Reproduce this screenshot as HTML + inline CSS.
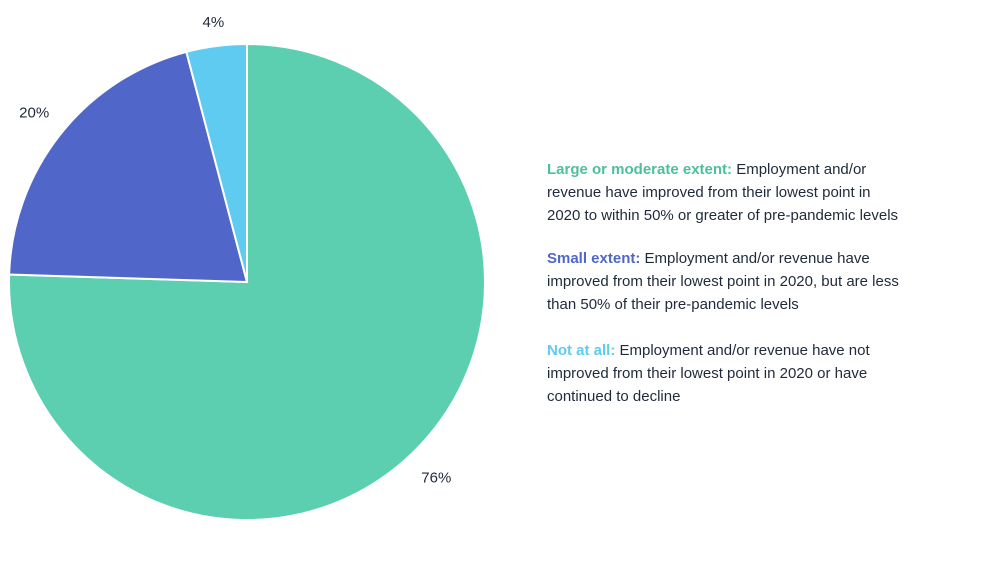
<!DOCTYPE html>
<html><head><meta charset="utf-8">
<style>
body{margin:0;width:985px;height:565px;background:#fff;font-family:"Liberation Sans",sans-serif;overflow:hidden;position:relative}
svg{position:absolute;left:0;top:0}
.leg{position:absolute;left:547px;font-size:15px;line-height:23px;color:#1f2a3a;white-space:nowrap}
.leg b{font-weight:bold}
</style></head><body>
<svg id="pie" width="985" height="565"></svg>
<div class="leg" style="top:158px"><b style="color:#4dbf9e">Large or moderate extent:</b> Employment and/or<br>revenue have improved from their lowest point in<br>2020 to within 50% or greater of pre-pandemic levels</div>
<div class="leg" style="top:247px"><b style="color:#5067c9">Small extent:</b> Employment and/or revenue have<br>improved from their lowest point in 2020, but are less<br>than 50% of their pre-pandemic levels</div>
<div class="leg" style="top:339px"><b style="color:#5fcbf0">Not at all:</b> Employment and/or revenue have not<br>improved from their lowest point in 2020 or have<br>continued to decline</div>
<script>
const categories=["Large or moderate extent","Small extent","Not at all"];
const values=[75.5,20.4,4.1];
const labels=["76%","20%","4%"];
const colors=["#5ccfb0","#5067c9","#5fcbf0"];
const cx=247,cy=282,r=238;
const svg=document.getElementById('pie');
const NS="http://www.w3.org/2000/svg";
const total=values.reduce((a,b)=>a+b,0);
let a0=0;
values.forEach((v,i)=>{
  const a1=a0+v/total*2*Math.PI;
  const x0=cx+r*Math.sin(a0),y0=cy-r*Math.cos(a0);
  const x1=cx+r*Math.sin(a1),y1=cy-r*Math.cos(a1);
  const p=document.createElementNS(NS,'path');
  p.setAttribute('d',`M${cx},${cy}L${x0},${y0}A${r},${r} 0 ${a1-a0>Math.PI?1:0} 1 ${x1},${y1}Z`);
  p.setAttribute('fill',colors[i]);p.setAttribute('stroke','#fff');p.setAttribute('stroke-width','2');
  
  
  svg.appendChild(p);
  const mid=(a0+a1)/2;
  const lr=r+(v<10?24:34);
  const t=document.createElementNS(NS,'text');
  t.setAttribute('x',cx+lr*Math.sin(mid));
  t.setAttribute('y',cy-lr*Math.cos(mid)+5);
  t.setAttribute('text-anchor','middle');t.setAttribute('font-size','15');t.setAttribute('fill','#1f2a3a');
  t.setAttribute('font-family','Liberation Sans, sans-serif');
  t.textContent=labels[i];
  
  
  svg.appendChild(t);
  a0=a1;
});
</script>
</body></html>
